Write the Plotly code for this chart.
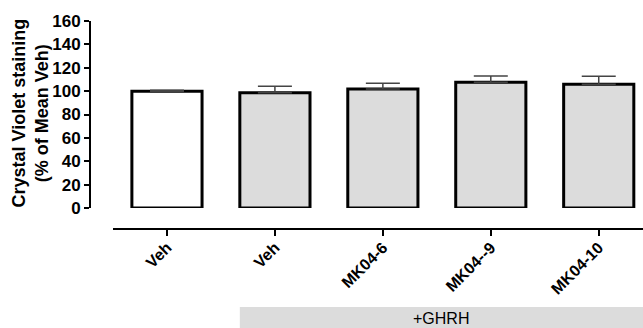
import plotly.graph_objects as go

categories = ["Veh", "Veh", "MK04-6", "MK04--9", "MK04-10"]
means = [100, 98.6, 101.8, 107.5, 105.8]
sem = [0.8, 5.6, 4.9, 5.4, 7.0]
fills = ["#ffffff", "#dcdcdc", "#dcdcdc", "#dcdcdc", "#dcdcdc"]
y_ticks = [0, 20, 40, 60, 80, 100, 120, 140, 160]
group_label = "+GHRH"
y_title = "<b>Crystal Violet staining<br>(% of Mean Veh)</b>"

W, H = 643, 328
ML, MR, MT, MB = 90, 0, 21, 99
plot_h = H - MT - MB
bar_w = 0.65
x_range = [-0.5, 4.41]
FONT = "Liberation Sans"
y_dom0 = (H - MB - 208) / plot_h

xs = list(range(len(categories)))

fig = go.Figure()
fig.add_trace(go.Bar(
    x=xs, y=means, width=bar_w,
    marker=dict(color=fills, line=dict(color="#000000", width=3)),
    error_y=dict(type="data", array=sem, arrayminus=[0]*len(sem), symmetric=False,
                 color="#444444", thickness=1.5, width=17),
    showlegend=False,
))

fig.add_shape(type="rect", xref="x", yref="paper",
              x0=1 - bar_w/2, x1=x_range[1],
              y0=-(307 - (H - MB)) / plot_h, y1=-(H - (H - MB)) / plot_h - 0.05,
              fillcolor="#dcdcdc", line=dict(width=0), layer="below")
fig.add_annotation(xref="x", yref="paper", x=(1 - bar_w/2 + x_range[1]) / 2,
                   y=-(318 - (H - MB)) / plot_h, text=group_label, showarrow=False,
                   font=dict(family=FONT, size=16, color="#000"),
                   yanchor="middle")
fig.add_annotation(xref="paper", yref="paper", x=0, xshift=-(ML - 30),
                   y=(y_dom0 + 1) / 2, yshift=1, text=y_title, textangle=-90,
                   showarrow=False, xanchor="center", yanchor="middle",
                   font=dict(family=FONT, size=18, color="#000"))

fig.update_layout(
    width=W, height=H,
    margin=dict(l=ML, r=MR, t=MT, b=MB, autoexpand=False),
    paper_bgcolor="white", plot_bgcolor="white",
    font=dict(family=FONT, color="#000"),
    xaxis=dict(
        domain=[(113 - ML) / (W - ML - MR), 1],
        range=x_range, anchor="free", position=0,
        tickmode="array", tickvals=xs,
        ticktext=["<b>%s</b>" % c for c in categories],
        tickangle=-45, tickfont=dict(size=16), ticklabelstandoff=-4,
        showline=True, linecolor="#000", linewidth=2,
        ticks="outside", ticklen=6, tickwidth=2, tickcolor="#000",
        showgrid=False, zeroline=False,
    ),
    yaxis=dict(
        domain=[y_dom0, 1],
        range=[0, 160], anchor="free", position=0,
        tickmode="array", tickvals=y_ticks,
        ticktext=["<b>%d</b>" % v for v in y_ticks],
        tickfont=dict(size=17),
        showline=True, linecolor="#000", linewidth=2,
        ticks="outside", ticklen=5, tickwidth=2, tickcolor="#000",
        showgrid=False, zeroline=False,
    ),
)

fig.write_html("out.html")
